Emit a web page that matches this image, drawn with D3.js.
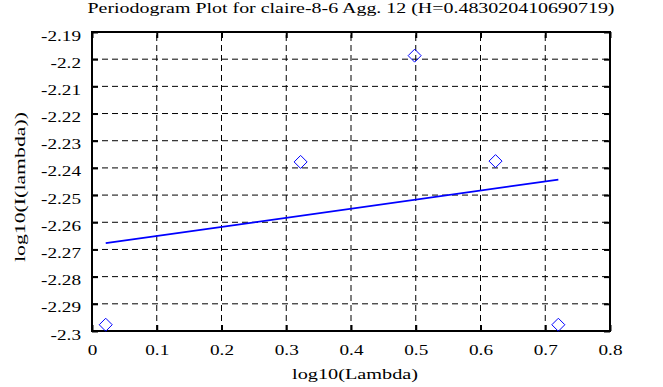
<!DOCTYPE html>
<html><head><meta charset="utf-8">
<script src="https://cdn.jsdelivr.net/npm/d3@7"></script>
<style>body{margin:0;background:#fff}svg{display:block}text{font-family:"Liberation Serif","DejaVu Serif",serif;fill:#000}</style>
</head><body>
<script>
const title = "Periodogram Plot for claire-8-6 Agg. 12 (H=0.483020410690719)";
const xLabel = "log10(Lambda)";
const yLabel = "log10(I(lambda))";
const xValues = [0.0212, 0.3222, 0.4983, 0.6232, 0.7202];
const yValues = [-2.2977, -2.2378, -2.1987, -2.2375, -2.2977];
const fitX = [0.0212, 0.7202];
const fitY = [-2.2677, -2.2443];
const xTicks = [0, 0.1, 0.2, 0.3, 0.4, 0.5, 0.6, 0.7, 0.8];
const yTicks = [-2.19, -2.2, -2.21, -2.22, -2.23, -2.24, -2.25, -2.26, -2.27, -2.28, -2.29, -2.3];

const W = 663, H = 387;
const m = {l: 92, r: 53, t: 32, b: 56};
const FS = 15, STRETCH = 1.28;
const svg = d3.select("body").append("svg").attr("width", W).attr("height", H);
const x = d3.scaleLinear().domain([0, 0.8]).range([m.l, W - m.r]);
const y = d3.scaleLinear().domain([-2.3, -2.19]).range([H - m.b, m.t]);
const x0 = m.l, x1 = W - m.r, y0 = H - m.b, y1 = m.t;
const fmt = d => String(d);

// grid
const g = svg.append("g");
g.selectAll(".gx").data(xTicks.slice(1, -1)).enter().append("line")
  .attr("x1", d => x(d)).attr("x2", d => x(d)).attr("y1", y0).attr("y2", y1)
  .attr("stroke", "#000").attr("stroke-dasharray", "6,4").attr("stroke-width", 1);
g.selectAll(".gy").data(yTicks.slice(1, -1)).enter().append("line")
  .attr("y1", d => y(d)).attr("y2", d => y(d)).attr("x1", x0).attr("x2", x1)
  .attr("stroke", "#000").attr("stroke-dasharray", "6,4").attr("stroke-width", 1);

// axes with inner ticks
const tl = 6;
const xb = svg.append("g").attr("transform", `translate(0,${y0})`)
  .call(d3.axisBottom(x).tickValues(xTicks).tickFormat(fmt).tickSizeInner(-tl).tickSizeOuter(0).tickPadding(0))
  .call(a => a.select(".domain").remove());
xb.selectAll("text").attr("y", 24).attr("dy", 0);
svg.append("g").attr("transform", `translate(0,${y1})`)
  .call(d3.axisTop(x).tickValues(xTicks).tickFormat("").tickSizeInner(-tl).tickSizeOuter(0))
  .call(a => a.select(".domain").remove());
const yl = svg.append("g").attr("transform", `translate(${x0},0)`)
  .call(d3.axisLeft(y).tickValues(yTicks).tickFormat(fmt).tickSizeInner(-tl).tickSizeOuter(0).tickPadding(0))
  .call(a => a.select(".domain").remove());
yl.selectAll("text").attr("x", -11).attr("dy", 8);
svg.append("g").attr("transform", `translate(${x1},0)`)
  .call(d3.axisRight(y).tickValues(yTicks).tickFormat("").tickSizeInner(-tl).tickSizeOuter(0))
  .call(a => a.select(".domain").remove());
svg.selectAll(".tick line").attr("stroke", "#000").attr("stroke-width", 2);
svg.selectAll(".tick text").attr("font-size", FS).attr("font-family", "Liberation Serif");

svg.append("rect").attr("x", x0).attr("y", y1).attr("width", x1 - x0).attr("height", y0 - y1)
  .attr("fill", "none").attr("stroke", "#000").attr("stroke-width", 2);

// fit line
svg.append("line").attr("x1", x(fitX[0])).attr("y1", y(fitY[0])).attr("x2", x(fitX[1])).attr("y2", y(fitY[1]))
  .attr("stroke", "#0000ff").attr("stroke-width", 1.8);

// diamonds
const r = 6.5;
svg.selectAll(".pt").data(xValues.map((v, i) => [v, yValues[i]])).enter().append("path")
  .attr("d", d => `M${x(d[0])},${y(d[1]) - r}L${x(d[0]) + r},${y(d[1])}L${x(d[0])},${y(d[1]) + r}L${x(d[0]) - r},${y(d[1])}Z`)
  .attr("fill", "none").attr("stroke", "#0000ff").attr("stroke-width", 1);

// the reference font is a wide bitmap serif: stretch glyphs horizontally
svg.selectAll(".tick text").each(function() {
  const len = this.getComputedTextLength();
  if (len > 0) d3.select(this).attr("textLength", len * STRETCH).attr("lengthAdjust", "spacingAndGlyphs");
});

// labels (width = rendered width of the wide reference font)
function label(sel, w) { return sel.attr("text-anchor", "middle").attr("font-size", FS).attr("textLength", w).attr("lengthAdjust", "spacingAndGlyphs"); }
label(svg.append("text").attr("x", 351).attr("y", 13).text(title), 527);
label(svg.append("text").attr("x", 355).attr("y", 379).text(xLabel), 126);
label(svg.append("text").attr("transform", `translate(25,187) rotate(-90)`).text(yLabel), 150);
</script>
</body></html>
